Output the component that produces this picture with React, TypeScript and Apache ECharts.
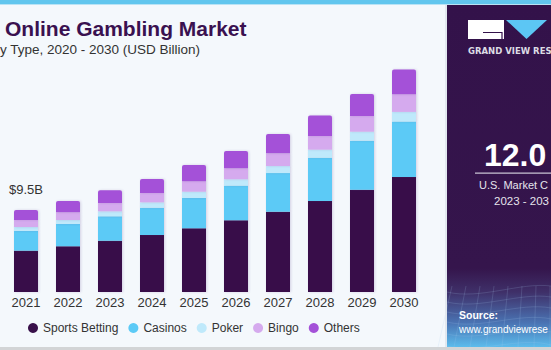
import React, { useEffect, useRef } from "react";
import * as echarts from "echarts";

const years = ["2021", "2022", "2023", "2024", "2025", "2026", "2027", "2028", "2029", "2030"];
const sportsBetting = [4.79, 5.3, 5.94, 6.6, 7.38, 8.31, 9.3, 10.54, 11.85, 13.33];
const casinos = [2.28, 2.58, 2.83, 3.16, 3.51, 4.01, 4.48, 5.02, 5.68, 6.41];
const poker = [0.46, 0.46, 0.58, 0.63, 0.73, 0.74, 0.81, 0.93, 1.04, 1.12];
const bingo = [0.81, 0.89, 0.96, 1.08, 1.21, 1.27, 1.47, 1.59, 1.82, 2.05];
const others = [1.16, 1.31, 1.47, 1.62, 1.89, 2.0, 2.24, 2.35, 2.55, 2.85];

const seriesNames = ["Sports Betting", "Casinos", "Poker", "Bingo", "Others"];
const seriesData = [sportsBetting, casinos, poker, bingo, others];
const seriesColors = ["#38104a", "#5ccaf6", "#bfe9fb", "#d5aaee", "#a451d8"];

const titleText = "Online Gambling Market";
const subtitleText = "y Type, 2020 - 2030 (USD Billion)";
const brandText = "GRAND VIEW RES";
const statValue = "12.0";
const statLine1 = "U.S. Market C";
const statLine2 = "2023 - 203";
const sourceLabel = "Source:";
const sourceUrl = "www.grandviewrese";

const FONT = "Arial, 'Liberation Sans', sans-serif";

export default function App() {
  const ref = useRef<HTMLDivElement>(null);

  useEffect(() => {
    document.body.style.margin = "0";
    if (!ref.current) return;
    const chart = echarts.init(ref.current, undefined, { renderer: "svg" });

    const firstTotal = seriesData.reduce((s, arr) => s + arr[0], 0);

    const series = seriesNames.map((name, si) => ({
      name,
      type: "bar",
      stack: "total",
      barWidth: 24,
      itemStyle: {
        color: seriesColors[si],
        borderRadius: si === seriesNames.length - 1 ? [2, 2, 0, 0] : 0,
        shadowColor: "rgba(90,60,140,0.22)",
        shadowBlur: 2,
        shadowOffsetX: 1,
      },
      data: seriesData[si].map((v, i) => {
        if (si === seriesNames.length - 1 && i === 0) {
          return {
            value: v,
            label: {
              show: true,
              position: "top",
              distance: 14,
              formatter: `$${firstTotal.toFixed(1)}B`,
              color: "#333333",
              fontSize: 13,
              fontFamily: FONT,
            },
          };
        }
        return v;
      }),
    }));

    const t = (x: number, y: number, text: string, font: string, fill: string, align = "left") => ({
      type: "text",
      x,
      y,
      style: {
        text,
        font,
        fill,
        textAlign: align,
        align,
        textVerticalAlign: "middle",
        verticalAlign: "middle",
      },
    });

    // decorative mesh in the lower part of the side panel
    const mesh: any[] = [];
    const meshStroke = "rgba(170,200,240,0.22)";
    [292, 302, 312, 322, 334, 346].forEach((y0, k) => {
      mesh.push({
        type: "bezierCurve",
        shape: { x1: 447, y1: y0, x2: 551, y2: y0 - 6 + k, cpx1: 480, cpy1: y0 + 8, cpx2: 520, cpy2: y0 - 10 },
        style: { stroke: meshStroke, lineWidth: 0.8, fill: null },
      });
    });
    [452, 466, 480, 494, 508, 522, 536, 550].forEach((x0, k) => {
      mesh.push({
        type: "line",
        shape: { x1: x0, y1: 286, x2: x0 - 14 + k * 2, y2: 347 },
        style: { stroke: meshStroke, lineWidth: 0.8 },
      });
    });

    chart.setOption({
      animation: false,
      backgroundColor: "#f4f8fc",
      grid: { left: 5, width: 420, top: 33, height: 259, containLabel: false },
      xAxis: {
        type: "category",
        data: years,
        axisLine: { show: false },
        axisTick: { show: false },
        axisLabel: { color: "#333333", fontSize: 13, fontFamily: FONT, margin: 4 },
      },
      yAxis: {
        type: "value",
        min: 0,
        max: 30,
        show: false,
        splitLine: { show: false },
      },
      legend: {
        data: seriesNames,
        left: 28,
        top: 322,
        padding: 0,
        icon: "circle",
        itemWidth: 10,
        itemHeight: 10,
        itemGap: 10,
        textStyle: { color: "#333333", fontSize: 12, fontFamily: FONT },
      },
      series,
      graphic: [
        { type: "rect", shape: { x: 0, y: 0, width: 551, height: 4 }, style: { fill: "#62c6ee" } },
        { type: "rect", shape: { x: 0, y: 4, width: 551, height: 1 }, style: { fill: "#b9e3f5" } },
        {
          type: "rect",
          shape: { x: 447, y: 5, width: 104, height: 342 },
          style: {
            fill: new echarts.graphic.LinearGradient(0, 0, 0, 1, [
              { offset: 0, color: "#33124a" },
              { offset: 0.77, color: "#35154c" },
              { offset: 0.84, color: "#3f3069" },
              { offset: 0.93, color: "#4a74b4" },
              { offset: 1, color: "#5cbcec" },
            ]),
          },
        },
        ...mesh,
        { type: "rect", shape: { x: 445, y: 5, width: 2, height: 342 }, style: { fill: "#e2e8ef" } },
        { type: "rect", shape: { x: 468, y: 20, width: 36, height: 19 }, style: { fill: "#ffffff" } },
        {
          type: "polyline",
          shape: { points: [[483, 32.5], [502, 32.5], [502, 39]] },
          style: { stroke: "#33124a", lineWidth: 1.2, fill: null },
        },
        {
          type: "polygon",
          shape: { points: [[506, 20], [547, 20], [526.5, 39]] },
          style: { fill: "#5cc6f4" },
        },
        t(468, 51, brandText, "bold 8.5px 'DejaVu Sans', sans-serif", "#dcdce4"),
        t(484, 155, statValue, `bold 32px ${FONT}`, "#ffffff"),
        { type: "rect", shape: { x: 475, y: 172.5, width: 76, height: 1.2 }, style: { fill: "#c9c3d3" } },
        t(479, 185, statLine1, `11px ${FONT}`, "#e6e4ec"),
        t(494, 201, statLine2, `11.5px ${FONT}`, "#e6e4ec"),
        t(459, 315, sourceLabel, `bold 10.5px ${FONT}`, "#ffffff"),
        t(459, 329, sourceUrl, `10px ${FONT}`, "#ffffff"),
        { type: "rect", shape: { x: 0, y: 347, width: 551, height: 3 }, style: { fill: "#d2d4d6" } },
        t(5, 28.5, titleText, `bold 21px ${FONT}`, "#3a1150"),
        t(0, 49, subtitleText, `13.5px ${FONT}`, "#333333"),
      ],
    });

    return () => chart.dispose();
  }, []);

  return <div ref={ref} style={{ width: 551, height: 350 }} />;
}
